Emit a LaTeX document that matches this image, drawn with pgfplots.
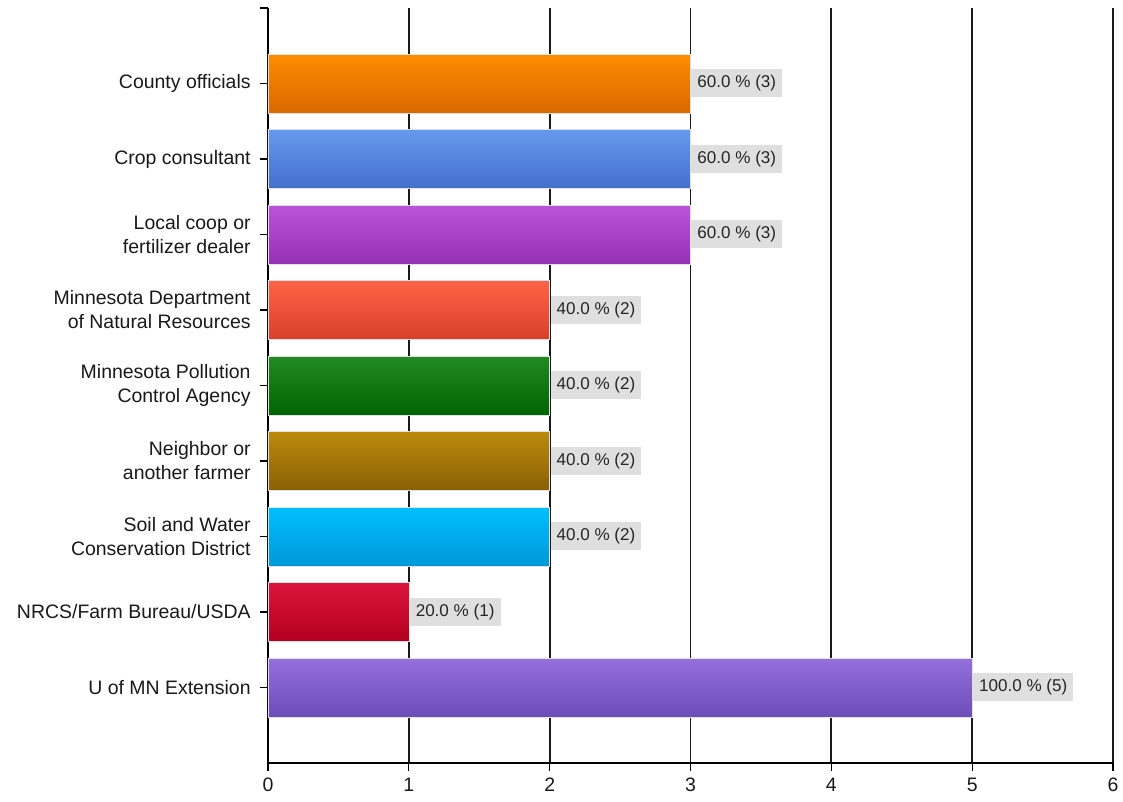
\documentclass[border=0pt]{standalone}
\usepackage{fontspec}
\setmainfont{Liberation Sans}
\usepackage{pgfplots}
\pgfplotsset{compat=1.18}

% bar gradients, light on top
\definecolor{orT}{HTML}{FF8C00}\definecolor{orB}{HTML}{D86800}
\definecolor{blT}{HTML}{6699EE}\definecolor{blB}{HTML}{4470CC}
\definecolor{puT}{HTML}{BB55D8}\definecolor{puB}{HTML}{9430B4}
\definecolor{rdT}{HTML}{FF6347}\definecolor{rdB}{HTML}{D8402A}
\definecolor{grT}{HTML}{228B22}\definecolor{grB}{HTML}{006400}
\definecolor{gdT}{HTML}{BB8A0C}\definecolor{gdB}{HTML}{8A6006}
\definecolor{skT}{HTML}{00BFFF}\definecolor{skB}{HTML}{0098D8}
\definecolor{crT}{HTML}{DC143C}\definecolor{crB}{HTML}{B40020}
\definecolor{mpT}{HTML}{9370DB}\definecolor{mpB}{HTML}{6E4CB8}
\definecolor{labelgray}{HTML}{DFDFDF}

\pgfplotsset{
  hb/.style n args={2}{xbar, bar width=0.78, bar shift=0pt, draw=black!12,
    top color=#1, bottom color=#2,
    point meta=explicit symbolic, nodes near coords},
}

\begin{document}
\begin{tikzpicture}
\begin{axis}[
  scale only axis, width=633.75pt, height=566.25pt,
  xmin=0, xmax=6, ymin=-1, ymax=9,
  axis x line*=bottom, axis y line*=left,
  axis line style={-, black, line width=1pt},
  xtick={0,1,...,6}, ytick={0,1,...,8},
  xtick pos=bottom, ytick pos=left,
  extra y ticks={9}, extra y tick labels={},
  yticklabels={U of MN Extension, NRCS/Farm Bureau/USDA,
    {Soil and Water\\Conservation District}, {Neighbor or\\another farmer},
    {Minnesota Pollution\\Control Agency}, {Minnesota Department\\of Natural Resources},
    {Local coop or\\fertilizer dealer}, Crop consultant, County officials},
  yticklabel style={align=right, xshift=-3.5pt},
  xticklabel style={yshift=-2pt},
  tick align=outside, major tick length=6pt,
  major tick style={draw=black, line width=1pt, solid},
  xmajorgrids, major grid style={black!90, line width=1.4pt},
  tick label style={font=\fontsize{14.6}{18}\selectfont, text=black!90},
  /pgf/number format/assume math mode=true,
  every node near coord/.append style={anchor=west, fill=labelgray,
    font=\fontsize{12.8}{14}\selectfont, text=black!85,
    inner xsep=4.5pt, minimum height=21pt, xshift=0.5pt},
]
\addplot[hb={orT}{orB}] coordinates {(3,8) [60.0 \% (3)]};
\addplot[hb={blT}{blB}] coordinates {(3,7) [60.0 \% (3)]};
\addplot[hb={puT}{puB}] coordinates {(3,6) [60.0 \% (3)]};
\addplot[hb={rdT}{rdB}] coordinates {(2,5) [40.0 \% (2)]};
\addplot[hb={grT}{grB}] coordinates {(2,4) [40.0 \% (2)]};
\addplot[hb={gdT}{gdB}] coordinates {(2,3) [40.0 \% (2)]};
\addplot[hb={skT}{skB}] coordinates {(2,2) [40.0 \% (2)]};
\addplot[hb={crT}{crB}] coordinates {(1,1) [20.0 \% (1)]};
\addplot[hb={mpT}{mpB}] coordinates {(5,0) [100.0 \% (5)]};
\end{axis}
\path (current axis.south west) ++(-201pt,-29.25pt) rectangle ++(842.25pt,601.5pt);
\end{tikzpicture}
\end{document}
